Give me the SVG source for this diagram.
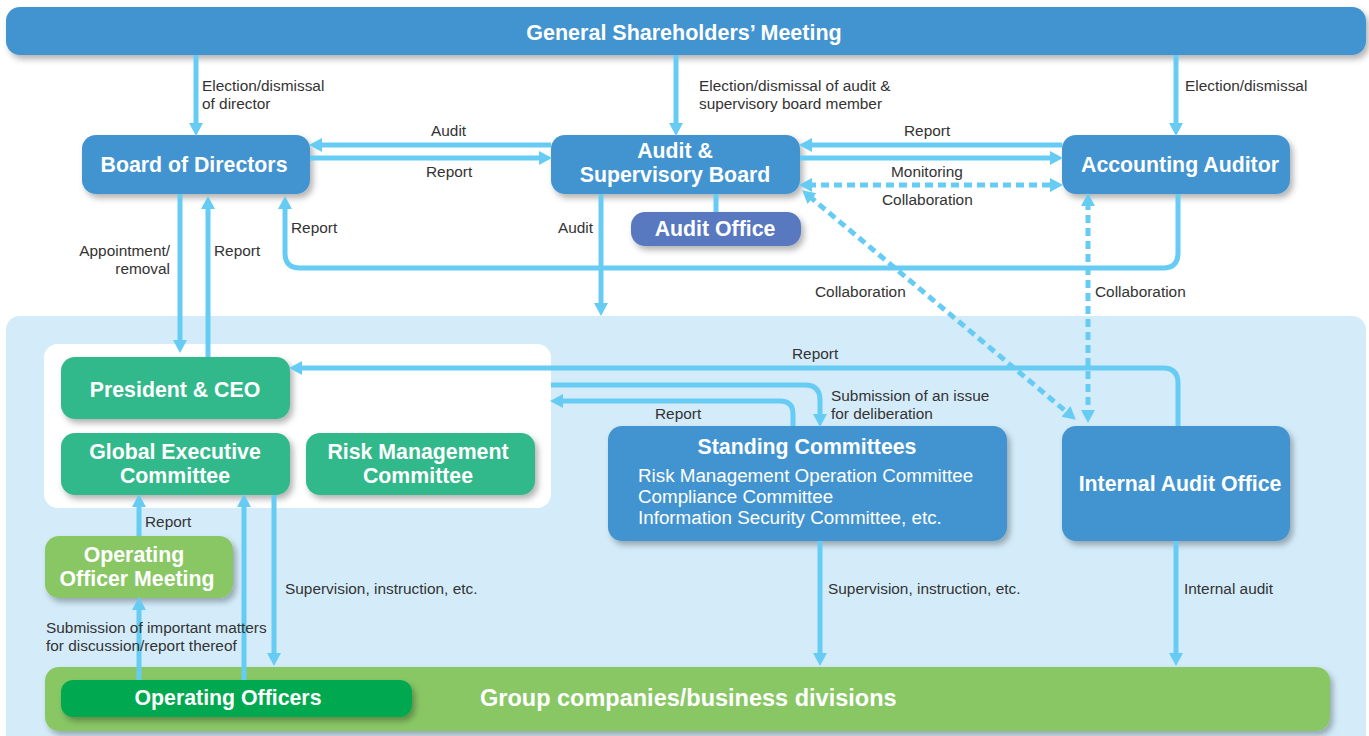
<svg xmlns="http://www.w3.org/2000/svg" width="1369" height="736" viewBox="0 0 1369 736">
<defs>
<filter id="sh" x="-10%" y="-20%" width="130%" height="150%">
<feDropShadow dx="3" dy="4" stdDeviation="3" flood-color="#000" flood-opacity="0.3"/>
</filter>
<marker id="ah" markerUnits="userSpaceOnUse" markerWidth="14" markerHeight="16" refX="4" refY="8" orient="auto-start-reverse">
<path d="M0,1 L13,8 L0,15 z" fill="#66ccf4"/>
</marker>
<style>
.b{fill:#4294d0;filter:url(#sh)}
.g{fill:#30b98b;filter:url(#sh)}
.lg{fill:#89c765;filter:url(#sh)}
.t{font-family:"Liberation Sans",Arial,sans-serif;font-weight:bold;fill:#fff;text-anchor:middle;font-size:21.3px}
.l{font-family:"Liberation Sans",Arial,sans-serif;font-size:15.4px;fill:#333}
.s{font-family:"Liberation Sans",Arial,sans-serif;font-size:18.8px;fill:#fff}
.c{fill:none;stroke:#66ccf4;stroke-width:5}
.d{fill:none;stroke:#66ccf4;stroke-width:5;stroke-dasharray:8 5}
</style>
</defs>
<rect x="0" y="0" width="1369" height="736" fill="#fff"/>
<rect id="panel" x="6" y="316" width="1360" height="440" rx="14" fill="#d4ecfa"/>
<rect id="whitebox" x="44" y="344" width="507" height="164" rx="14" fill="#fff"/>

<g id="shareholders">
<rect class="b" x="6" y="7" width="1360" height="48" rx="14"/>
<text class="t" x="684" y="40" style="font-size:21.5px">General Shareholders’ Meeting</text>
</g>
<g id="board">
<rect class="b" x="82" y="135" width="228" height="59" rx="14"/>
<text class="t" x="194" y="172">Board of Directors</text>
</g>
<g id="asb">
<rect class="b" x="551" y="135" width="249" height="59" rx="14"/>
<text class="t" x="675" y="158">Audit &amp;</text>
<text class="t" x="675" y="182">Supervisory Board</text>
</g>
<g id="auditor">
<rect class="b" x="1062" y="135" width="228" height="59" rx="14"/>
<text class="t" x="1180" y="172">Accounting Auditor</text>
</g>
<g id="auditoffice">
<rect x="631" y="212" width="170" height="34" rx="14" fill="#5878c0" filter="url(#sh)"/>
<text class="t" x="715" y="236">Audit Office</text>
</g>
<g id="president">
<rect class="g" x="61" y="357" width="229" height="62" rx="14"/>
<text class="t" x="175" y="397">President &amp; CEO</text>
</g>
<g id="gec">
<rect class="g" x="61" y="433" width="229" height="62" rx="14"/>
<text class="t" x="175" y="459">Global Executive</text>
<text class="t" x="175" y="483">Committee</text>
</g>
<g id="rmc">
<rect class="g" x="306" y="433" width="229" height="62" rx="14"/>
<text class="t" x="418" y="459">Risk Management</text>
<text class="t" x="418" y="483">Committee</text>
</g>
<g id="standing">
<rect class="b" x="608" y="426" width="399" height="115" rx="14"/>
<text class="t" x="807" y="454">Standing Committees</text>
<text class="s" x="638" y="482">Risk Management Operation Committee</text>
<text class="s" x="638" y="503">Compliance Committee</text>
<text class="s" x="638" y="524">Information Security Committee, etc.</text>
</g>
<g id="iao">
<rect class="b" x="1062" y="426" width="228" height="115" rx="14"/>
<text class="t" x="1180" y="491">Internal Audit Office</text>
</g>
<g id="group">
<rect class="lg" x="45" y="667" width="1285" height="64" rx="14"/>
<text x="480" y="706" font-family="Liberation Sans,Arial,sans-serif" font-weight="bold" font-size="23.5" fill="#fff">Group companies/business divisions</text>
</g>
<g id="officers">
<rect x="61" y="680" width="351" height="37" rx="12" fill="#00a94f" filter="url(#sh)"/>
<text class="t" x="228" y="705">Operating Officers</text>
</g>
<g id="oom">
<rect class="lg" x="45" y="536" width="188" height="62" rx="14"/>
<text class="t" x="134" y="562">Operating</text>
<text class="t" x="137" y="586">Officer Meeting</text>
</g>

<g id="connectors">
<path class="c" d="M196,55 V127" marker-end="url(#ah)"/>
<path class="c" d="M676,55 V127" marker-end="url(#ah)"/>
<path class="c" d="M1176,55 V127" marker-end="url(#ah)"/>
<path class="c" d="M551,145 H318" marker-end="url(#ah)"/>
<path class="c" d="M310,158 H543" marker-end="url(#ah)"/>
<path class="c" d="M1062,145 H808" marker-end="url(#ah)"/>
<path class="c" d="M800,158 H1054" marker-end="url(#ah)"/>
<path class="d" d="M808,185 H1054" marker-start="url(#ah)" marker-end="url(#ah)"/>
<path class="c" d="M716,194 V212"/>
<path class="c" d="M1178,194 V253 Q1178,268 1163,268 H300 Q285,268 285,253 V205" marker-end="url(#ah)"/>
<path class="c" d="M601,194 V307" marker-end="url(#ah)"/>
<path class="d" d="M809,196 L1069,414" marker-start="url(#ah)" marker-end="url(#ah)"/>
<path class="d" d="M1088,202 V414" marker-start="url(#ah)" marker-end="url(#ah)"/>
<path class="c" d="M180,194 V344" marker-end="url(#ah)"/>
<path class="c" d="M208,357 V205" marker-end="url(#ah)"/>
<path class="c" d="M1178,426 V383 Q1178,368 1163,368 H298" marker-end="url(#ah)"/>
<path class="c" d="M551,385 H805 Q820,385 820,400 V418" marker-end="url(#ah)"/>
<path class="c" d="M793,426 V414 Q793,401 780,401 H559" marker-end="url(#ah)"/>
<path class="c" d="M820,541 V657" marker-end="url(#ah)"/>
<path class="c" d="M1176,541 V657" marker-end="url(#ah)"/>
<path class="c" d="M139,680 V606" marker-end="url(#ah)"/>
<path class="c" d="M139,536 V503" marker-end="url(#ah)"/>
<path class="c" d="M244,680 V503" marker-end="url(#ah)"/>
<path class="c" d="M274,495 V657" marker-end="url(#ah)"/>
</g>

<g id="labels">
<text class="l" x="202" y="91">Election/dismissal</text>
<text class="l" x="202" y="109">of director</text>
<text class="l" x="699" y="91">Election/dismissal of audit &amp;</text>
<text class="l" x="699" y="109">supervisory board member</text>
<text class="l" x="1185" y="91">Election/dismissal</text>
<text class="l" x="431" y="136">Audit</text>
<text class="l" x="426" y="177">Report</text>
<text class="l" x="904" y="136">Report</text>
<text class="l" x="891" y="177">Monitoring</text>
<text class="l" x="882" y="205">Collaboration</text>
<text class="l" x="291" y="233">Report</text>
<text class="l" x="593" y="233" text-anchor="end">Audit</text>
<text class="l" x="170" y="256" text-anchor="end">Appointment/</text>
<text class="l" x="170" y="274" text-anchor="end">removal</text>
<text class="l" x="214" y="256">Report</text>
<text class="l" x="815" y="297">Collaboration</text>
<text class="l" x="1095" y="297">Collaboration</text>
<text class="l" x="792" y="359">Report</text>
<text class="l" x="831" y="401">Submission of an issue</text>
<text class="l" x="831" y="419">for deliberation</text>
<text class="l" x="655" y="419">Report</text>
<text class="l" x="145" y="527">Report</text>
<text class="l" x="285" y="594">Supervision, instruction, etc.</text>
<text class="l" x="828" y="594">Supervision, instruction, etc.</text>
<text class="l" x="1184" y="594">Internal audit</text>
<text class="l" x="46" y="633">Submission of important matters</text>
<text class="l" x="46" y="651">for discussion/report thereof</text>
</g>
</svg>
